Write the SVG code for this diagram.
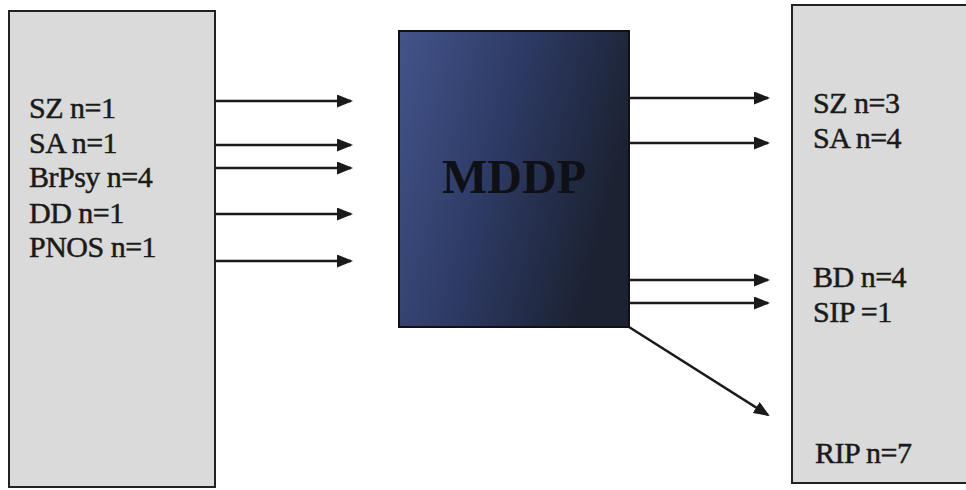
<svg xmlns="http://www.w3.org/2000/svg" width="966" height="490" viewBox="0 0 966 490">
  <style>
    .panel { fill: #dadada; stroke: #222; stroke-width: 2; }
    .label { font-family: "Liberation Serif", "Times New Roman", serif; font-size: 30px; fill: #1a1a1a; stroke: #1a1a1a; stroke-width: 0.5; letter-spacing: -0.5px; }
    .title { font-family: "Liberation Serif", "Times New Roman", serif; font-size: 48px; font-weight: bold; fill: #0e1016; text-anchor: middle; }
    .conn { fill: none; stroke: #1a1a1a; stroke-width: 2.5; marker-end: url(#arrow); }
  </style>
  <defs>
    <marker id="arrow" markerUnits="userSpaceOnUse" viewBox="0 0 16 13" refX="14" refY="6.5" markerWidth="16" markerHeight="13" orient="auto">
      <path d="M0,0 L16,6.5 L0,13 Z" fill="#1a1a1a"/>
    </marker>
    <linearGradient id="coreFill" x1="0" y1="0" x2="1" y2="0.35">
      <stop offset="0" stop-color="#44548a"/>
      <stop offset="0.5" stop-color="#2d3a64"/>
      <stop offset="1" stop-color="#1c2232"/>
    </linearGradient>
  </defs>

  <rect width="966" height="490" fill="#ffffff"/>

  <!-- input panel -->
  <g id="inputs">
    <rect class="panel" x="9" y="11" width="206" height="476"/>
    <text class="label" x="29" y="118">SZ n=1</text>
    <text class="label" x="29" y="153">SA n=1</text>
    <text class="label" x="29" y="187">BrPsy n=4</text>
    <text class="label" x="29" y="223">DD n=1</text>
    <text class="label" x="29" y="257">PNOS n=1</text>
  </g>

  <!-- central process block -->
  <g id="mddp">
    <rect x="399" y="31" width="230" height="296" fill="url(#coreFill)" stroke="#111" stroke-width="2"/>
    <text class="title" x="514" y="193">MDDP</text>
  </g>

  <!-- output panel -->
  <g id="outputs">
    <rect class="panel" x="792" y="5" width="190" height="478"/>
    <text class="label" x="813" y="113">SZ n=3</text>
    <text class="label" x="813" y="148">SA n=4</text>
    <text class="label" x="813" y="287">BD n=4</text>
    <text class="label" x="813" y="322">SIP =1</text>
    <text class="label" x="815" y="463">RIP n=7</text>
  </g>

  <!-- connectors -->
  <g id="connectors">
    <path class="conn" d="M216,101 H351"/>
    <path class="conn" d="M216,145 H351"/>
    <path class="conn" d="M216,168 H351"/>
    <path class="conn" d="M216,214 H351"/>
    <path class="conn" d="M216,261 H351"/>
    <path class="conn" d="M629,98 H768"/>
    <path class="conn" d="M629,143 H768"/>
    <path class="conn" d="M629,280 H768"/>
    <path class="conn" d="M629,303 H768"/>
    <path class="conn" d="M629,327 L768,415"/>
  </g>
</svg>
